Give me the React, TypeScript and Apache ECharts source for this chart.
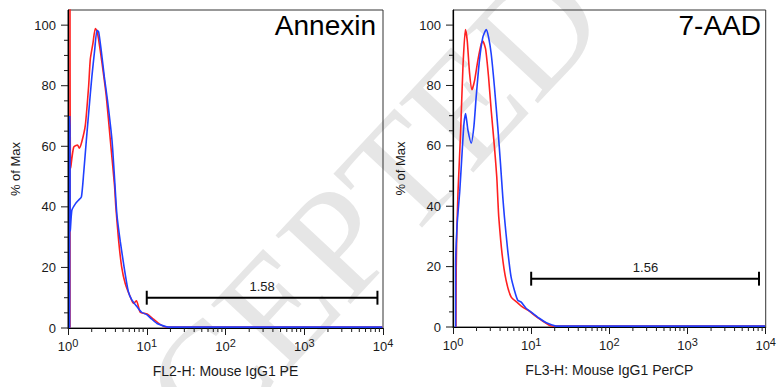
import React, { useEffect, useRef } from "react";
import * as echarts from "echarts";

// ---- data ----
const panelTitles = ["Annexin", "7-AAD"];
const axisNames = ["FL2-H: Mouse IgG1 PE", "FL3-H: Mouse IgG1 PerCP"];
const gateLabels = ["1.58", "1.56"];
const gateLevels = [10, 16];
const gateStart = [10, 10];
const gateEnd = [8500, 8200];
const gateLabelAt = [292, 290];

const annexinRed: [number, number][] = [
  [1.06, 0], [1.06, 110], [1.08, 52.7], [1.18, 59.7], [1.32, 60.4], [1.39, 59.4], [1.5, 61.6],
  [1.66, 67], [1.83, 80], [1.92, 88.8], [2.08, 94.2], [2.22, 98.9], [2.33, 98.1], [2.44, 95.5],
  [2.7, 87.6], [3.06, 76.6], [3.44, 62.3], [3.9, 46.9], [4.05, 40], [4.39, 29], [4.8, 20.2],
  [5.33, 14.7], [6.17, 10.3], [6.8, 8.1], [7.4, 9.0], [8.27, 5.2], [10.1, 4.6], [12.2, 2.9],
  [14.8, 1.2], [17.9, 0.3], [30, 0.3], [100, 0.3], [1000, 0.3], [9800, 0.3],
];
const annexinBlue: [number, number][] = [
  [1.05, 0], [1.05, 70], [1.06, 66], [1.07, 32], [1.12, 38.9], [1.24, 41], [1.36, 42.2],
  [1.48, 43.3], [1.58, 51], [1.71, 62], [1.83, 71], [2.01, 83], [2.18, 91.7], [2.33, 98.3],
  [2.45, 97.8], [2.64, 91.7], [2.89, 83], [3.18, 75], [3.62, 62], [3.91, 49], [4.18, 37.4],
  [4.61, 28.6], [5.18, 19.8], [5.83, 12.1], [6.43, 9.4], [7.44, 7.2], [8.6, 5.2], [10, 4.4],
  [11.5, 3.0], [13.5, 1.5], [16.3, 0.7], [19, 0.3], [30, 0.3], [100, 0.3], [1000, 0.3], [9800, 0.3],
];
const aadRed: [number, number][] = [
  [1.09, 0], [1.1, 20], [1.12, 32], [1.14, 38.6], [1.16, 45], [1.25, 64.3], [1.34, 86.1],
  [1.44, 98.5], [1.52, 94.9], [1.63, 84], [1.75, 78.6], [1.89, 81.7], [2.08, 88.3], [2.3, 93.8],
  [2.41, 94.7], [2.61, 92.1], [2.85, 82.8], [3.08, 71.8], [3.39, 59.6], [3.63, 49.7], [3.75, 42],
  [3.85, 36.4], [4.24, 24.3], [4.77, 15.5], [5.53, 10], [6.72, 8], [7.78, 6.6], [9.46, 5.3],
  [11.5, 3.5], [14, 2.0], [17, 0.6], [19.6, 0.3], [50, 0.3], [500, 0.3], [9800, 0.3],
];
const aadBlue: [number, number][] = [
  [1.08, 0], [1.08, 20], [1.13, 34], [1.22, 45], [1.32, 59.6], [1.38, 67.3], [1.45, 70.7],
  [1.55, 65.3], [1.71, 60.9], [1.85, 66.4], [1.98, 76.3], [2.18, 88.3], [2.41, 96], [2.66, 98.5],
  [2.85, 96], [3.08, 90.5], [3.39, 79.5], [3.74, 66.2], [4.05, 54.1], [4.33, 43.2], [4.55, 36.4],
  [5.01, 25.4], [5.53, 16.6], [6.1, 12.2], [6.72, 8.9], [7.4, 8.3], [8.6, 6.2], [10.4, 4.6],
  [12.7, 2.9], [15.4, 1.5], [18.5, 0.7], [21, 0.3], [30, 0.3], [300, 0.3], [9800, 0.3],
];
const redSeries = [annexinRed, aadRed];
const blueSeries = [annexinBlue, aadBlue];

const yTickValues = [0, 5, 10, 15, 20, 25, 30, 35, 40, 45, 50, 55, 60, 65, 70, 75, 80, 85, 90, 95, 100];
const xMinorTickValues = [
  2, 3, 4, 5, 6, 7, 8, 9, 20, 30, 40, 50, 60, 70, 80, 90,
  200, 300, 400, 500, 600, 700, 800, 900, 2000, 3000, 4000, 5000, 6000, 7000, 8000, 9000,
];

const FONT = "Liberation Sans, Arial, Helvetica, sans-serif";
const RED = "#ff2020";
const BLUE = "#2040ff";
const INK = "#1a1a1a";

const grids = [
  { left: 68, top: 10, width: 315, height: 318 },
  { left: 453, top: 10, width: 315, height: 317 },
];

export default function App() {
  const ref = useRef<HTMLDivElement>(null);
  useEffect(() => {
    if (!ref.current) return;
    const chart = echarts.init(ref.current, null, { renderer: "svg" });

    const xAxis: any[] = [];
    const yAxis: any[] = [];
    const series: any[] = [];
    const graphic: any[] = [];

    graphic.push({
      type: "text",
      x: 300,
      y: 282,
      rotation: (47 * Math.PI) / 180,
      z: -10,
      silent: true,
      style: {
        text: "ACCEPTED",
        fontSize: 155,
        fontFamily: "Liberation Serif, DejaVu Serif, serif",
        fill: "#e6e6e6",
        textAlign: "center",
        textVerticalAlign: "middle",
      },
    });

    grids.forEach((g, i) => {
      xAxis.push({
        type: "log",
        logBase: 10,
        gridIndex: i,
        min: 1,
        max: 10000,
        name: axisNames[i],
        nameLocation: "middle",
        nameGap: 36,
        nameTextStyle: { fontSize: 14, color: INK, fontFamily: FONT },
        axisLine: { lineStyle: { color: "#000", width: 1.2 } },
        axisTick: { show: true, length: 7, lineStyle: { color: INK } },
        minorTick: { show: false },
        splitLine: { show: false },
        axisLabel: {
          margin: 9,
          formatter: (v: number) => `{b|10}{s|${Math.round(Math.log10(v))}}`,
          rich: {
            b: { fontSize: 13, color: INK, fontFamily: FONT, lineHeight: 18 },
            s: { fontSize: 11, color: INK, fontFamily: FONT, lineHeight: 10, verticalAlign: "top" },
          },
        },
      });
      yAxis.push({
        type: "value",
        gridIndex: i,
        min: 0,
        max: 105,
        interval: 20,
        name: "% of Max",
        nameLocation: "middle",
        nameGap: 46,
        nameTextStyle: { fontSize: 13, color: INK, fontFamily: FONT },
        axisLine: { show: true, lineStyle: { color: "#000", width: 1.2 } },
        axisTick: { show: false },
        splitLine: { show: false },
        axisLabel: { margin: 12, fontSize: 13, color: INK, fontFamily: FONT, showMaxLabel: false },
      });

      series.push({
        type: "line",
        xAxisIndex: i,
        yAxisIndex: i,
        data: redSeries[i],
        showSymbol: false,
        symbol: "none",
        smooth: 0.2,
        lineStyle: { color: RED, width: 1.6 },
        z: 3,
      });
      series.push({
        type: "line",
        xAxisIndex: i,
        yAxisIndex: i,
        data: blueSeries[i],
        showSymbol: false,
        symbol: "none",
        smooth: 0.2,
        lineStyle: { color: BLUE, width: 1.6 },
        z: 4,
      });
      // gate bar
      const lvl = gateLevels[i];
      const gateLines: [number, number][][] = [
        [[gateStart[i], lvl], [gateEnd[i], lvl]],
        [[gateStart[i], lvl - 2.3], [gateStart[i], lvl + 2.3]],
        [[gateEnd[i], lvl - 2.3], [gateEnd[i], lvl + 2.3]],
      ];
      gateLines.forEach((d) =>
        series.push({
          type: "line",
          xAxisIndex: i,
          yAxisIndex: i,
          data: d,
          symbol: "none",
          lineStyle: { color: "#000", width: 2 },
          z: 5,
        })
      );
      series.push({
        type: "scatter",
        xAxisIndex: i,
        yAxisIndex: i,
        data: [[gateLabelAt[i], lvl]],
        symbolSize: 0,
        itemStyle: { opacity: 1 },
        label: {
          show: true,
          position: "top",
          distance: 5,
          formatter: gateLabels[i],
          fontSize: 13,
          color: INK,
          opacity: 1,
          fontFamily: FONT,
        },
        z: 5,
      });
      // y ticks (major every 20, minor every 5)
      series.push({
        type: "custom",
        xAxisIndex: i,
        yAxisIndex: i,
        clip: false,
        silent: true,
        data: yTickValues.map((v) => [1, v]),
        renderItem: (_p: any, api: any) => {
          const v = api.value(1);
          const pt = api.coord([1, v]);
          const len = v % 20 === 0 ? 7 : 4;
          return {
            type: "line",
            shape: { x1: pt[0] - len, y1: pt[1], x2: pt[0], y2: pt[1] },
            style: { stroke: INK, lineWidth: 1 },
          };
        },
        z: 6,
      });
      // x minor ticks
      series.push({
        type: "custom",
        xAxisIndex: i,
        yAxisIndex: i,
        clip: false,
        silent: true,
        data: xMinorTickValues.map((v) => [v, 0]),
        renderItem: (_p: any, api: any) => {
          const pt = api.coord([api.value(0), 0]);
          return {
            type: "line",
            shape: { x1: pt[0], y1: pt[1], x2: pt[0], y2: pt[1] + 4 },
            style: { stroke: INK, lineWidth: 1 },
          };
        },
        z: 6,
      });

      graphic.push({
        type: "text",
        x: g.left + g.width - 7,
        y: 25,
        z: 10,
        style: {
          text: panelTitles[i],
          fontSize: 28,
          fontFamily: FONT,
          fill: "#000",
          textAlign: "right",
          textVerticalAlign: "middle",
        },
      });
    });

    chart.setOption({
      animation: false,
      backgroundColor: "#fff",
      grid: grids.map((g) => ({
        ...g,
        show: true,
        borderColor: "#333",
        borderWidth: 1,
        backgroundColor: "transparent",
        containLabel: false,
      })),
      xAxis,
      yAxis,
      series,
      graphic,
    });
    return () => chart.dispose();
  }, []);
  return (
    <div
      ref={ref}
      style={{ position: "fixed", left: 0, top: 0, width: 779, height: 387, background: "#fff" }}
    />
  );
}
